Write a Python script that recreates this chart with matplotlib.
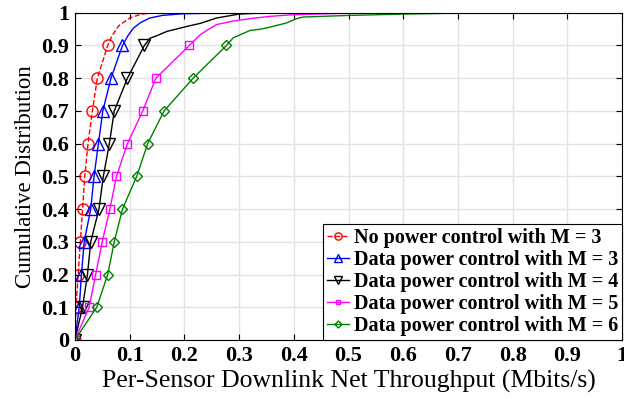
import matplotlib
matplotlib.use('Agg')
import matplotlib.pyplot as plt

plt.rcParams['font.family'] = ['Liberation Serif', 'DejaVu Serif']

# CDF curves: throughput (Mbits/s) vs cumulative probability
x_red = [0, 0.002, 0.006, 0.010, 0.014, 0.018, 0.024, 0.032, 0.041, 0.060, 0.068, 0.080, 0.100, 0.120, 0.140, 1.0]
y_red = [0, 0.1, 0.2, 0.3, 0.4, 0.5, 0.6, 0.7, 0.8, 0.9, 0.93, 0.96, 0.984, 0.995, 1.0, 1.0]

x_blue = [0, 0.008, 0.012, 0.017, 0.029, 0.035, 0.043, 0.051, 0.066, 0.087, 0.097, 0.107, 0.120, 0.137, 0.160, 0.197, 0.260, 0.350, 1.0]
y_blue = [0, 0.1, 0.2, 0.3, 0.4, 0.5, 0.6, 0.7, 0.8, 0.9, 0.93, 0.953, 0.97, 0.984, 0.992, 0.997, 0.999, 1.0, 1.0]

x_black = [0, 0.014, 0.023, 0.029, 0.044, 0.052, 0.063, 0.072, 0.096, 0.127, 0.137, 0.150, 0.168, 0.185, 0.204, 0.230, 0.259, 0.300, 0.350, 1.0]
y_black = [0, 0.1, 0.2, 0.3, 0.4, 0.5, 0.6, 0.7, 0.8, 0.9, 0.922, 0.930, 0.943, 0.950, 0.958, 0.968, 0.984, 0.996, 1.0, 1.0]

x_mag = [0, 0.026, 0.038, 0.050, 0.064, 0.076, 0.096, 0.124, 0.148, 0.209, 0.229, 0.245, 0.259, 0.290, 0.320, 0.356, 0.399, 0.480, 0.576, 1.0]
y_mag = [0, 0.1, 0.2, 0.3, 0.4, 0.5, 0.6, 0.7, 0.8, 0.9, 0.933, 0.950, 0.964, 0.975, 0.982, 0.989, 0.994, 0.998, 1.0, 1.0]

x_green = [0, 0.040, 0.060, 0.072, 0.087, 0.113, 0.133, 0.163, 0.216, 0.277, 0.289, 0.320, 0.340, 0.356, 0.387, 0.405, 0.417, 0.503, 0.600, 0.704, 0.750, 1.0]
y_green = [0, 0.1, 0.2, 0.3, 0.4, 0.5, 0.6, 0.7, 0.8, 0.9, 0.923, 0.946, 0.950, 0.956, 0.969, 0.982, 0.987, 0.992, 0.996, 0.999, 1.0, 1.0]

labels = ['No power control with M = 3',
          'Data power control with M = 3',
          'Data power control with M = 4',
          'Data power control with M = 5',
          'Data power control with M = 6']

xticks = [0, 0.1, 0.2, 0.3, 0.4, 0.5, 0.6, 0.7, 0.8, 0.9, 1]
xticklabels = ['0', '0.1', '0.2', '0.3', '0.4', '0.5', '0.6', '0.7', '0.8', '0.9', '1']
yticks = [0, 0.1, 0.2, 0.3, 0.4, 0.5, 0.6, 0.7, 0.8, 0.9, 1]
yticklabels = ['0', '0.1', '0.2', '0.3', '0.4', '0.5', '0.6', '0.7', '0.8', '0.9', '1']

fig = plt.figure(figsize=(6.24, 3.99), dpi=100)
ax = fig.add_axes([0.120, 0.148, 0.877, 0.820])

marks = list(range(10))
ax.plot(x_red, y_red, color='red', ls='--', lw=1, marker='o', ms=8, mfc='none', markevery=marks, label=labels[0])
ax.plot(x_blue, y_blue, color='blue', ls='-', lw=1, marker='^', ms=9, mfc='none', markevery=marks, label=labels[1])
ax.plot(x_black, y_black, color='black', ls='-', lw=1, marker='v', ms=9, mfc='none', markevery=marks, label=labels[2])
ax.plot(x_mag, y_mag, color='magenta', ls='-', lw=1, marker='s', ms=5.5, mfc='none', markevery=marks, label=labels[3])
ax.plot(x_green, y_green, color='green', ls='-', lw=1, marker='D', ms=5.5, mfc='none', markevery=marks, label=labels[4])

ax.set_xlim(0, 1)
ax.set_ylim(0, 1)
ax.set_xticks(xticks)
ax.set_xticklabels(xticklabels, fontsize=16, fontweight='bold')
ax.set_yticks(yticks)
ax.set_yticklabels(yticklabels, fontsize=16, fontweight='bold')
ax.tick_params(direction='in', top=True, right=True, length=4, pad=4)
ax.grid(True, color='#e3e3e3', lw=1)
ax.set_axisbelow(True)

ax.set_xlabel('Per-Sensor Downlink Net Throughput (Mbits/s)', fontsize=18.5, labelpad=3)
ax.set_ylabel('Cumulative Distribution', fontsize=16.5, labelpad=4)

leg = ax.legend(loc='lower right', borderaxespad=0, markerscale=0.65,
                handlelength=1.1, handletextpad=0.25, labelspacing=0.1,
                fancybox=False, framealpha=1, edgecolor='black', borderpad=0.2,
                prop={'weight': 'bold', 'size': 14.5})
leg.get_frame().set_linewidth(0.8)

plt.savefig('out.png', dpi=100)
